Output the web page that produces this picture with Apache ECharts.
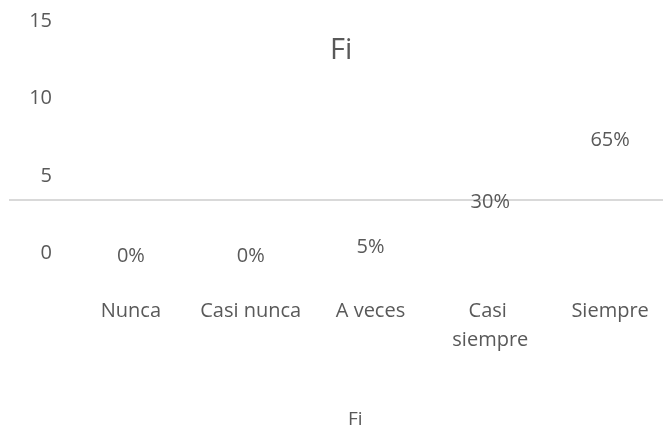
<!DOCTYPE html>
<html>
<head>
<meta charset="utf-8">
<title>Fi</title>
<script src="https://cdn.jsdelivr.net/npm/echarts@6/dist/echarts.min.js"></script>
<style>
  html, body { margin: 0; padding: 0; background: #fff; }
  #chart { width: 663px; height: 428px; }
</style>
</head>
<body>
<div id="chart"></div>
<script>
// datos
const categories = ['Nunca', 'Casi nunca', 'A veces', 'Casi siempre', 'Siempre']
const fiValues = [0, 0, 1, 6, 13]
const percentLabels = ['0%', '0%', '5%', '30%', '65%']
const tickValues = [0, 5, 10, 15]

const FONT = "'Open Sans', 'Noto Sans', sans-serif"
const TEXT = '#595959'

const chart = echarts.init(document.getElementById('chart'))

chart.setOption({
  animation: false,
  textStyle: { fontFamily: FONT, color: TEXT },
  title: {
    text: 'Fi',
    left: 325,
    top: 31,
    textStyle: { fontFamily: FONT, fontSize: 29, fontWeight: 'normal', color: TEXT }
  },
  legend: {
    data: ['Fi'],
    left: 313,
    bottom: -6,
    itemWidth: 25,
    textStyle: { fontFamily: FONT, fontSize: 19, color: TEXT }
  },
  grid: {
    left: 71,
    right: -7,
    top: 21.5,
    bottom: 428 - 253,
    containLabel: false,
    outerBoundsMode: 'none'
  },
  // linea horizontal gris que atraviesa el area
  graphic: [{
    type: 'line',
    shape: { x1: 9, y1: 200, x2: 663, y2: 200 },
    style: { stroke: '#d9d9d9', lineWidth: 2 },
    silent: true
  }],
  xAxis: {
    type: 'category',
    data: categories,
    axisLine: { show: false },
    axisTick: { show: false },
    axisLabel: {
      margin: 44,
      fontSize: 20,
      color: TEXT,
      fontFamily: FONT,
      width: 110,
      overflow: 'break',
      lineHeight: 29,
      interval: 0
    }
  },
  yAxis: [{
    type: 'value',
    min: tickValues[0],
    max: tickValues[tickValues.length - 1],
    interval: 5,
    axisLine: { show: false },
    axisTick: { show: false },
    splitLine: { show: false },
    axisLabel: { margin: 19, fontSize: 20, color: TEXT, fontFamily: FONT }
  }, {
    type: 'value',
    min: 0,
    max: 26,
    show: false
  }],
  series: [{
    name: 'Fi',
    type: 'bar',
    yAxisIndex: 1,
    data: fiValues,
    itemStyle: { color: 'rgba(0,0,0,0)' },
    label: {
      show: true,
      position: 'top',
      distance: -13,
      fontSize: 20,
      color: TEXT,
      fontFamily: FONT,
      formatter: p => percentLabels[p.dataIndex]
    }
  }]
})
</script>
</body>
</html>
